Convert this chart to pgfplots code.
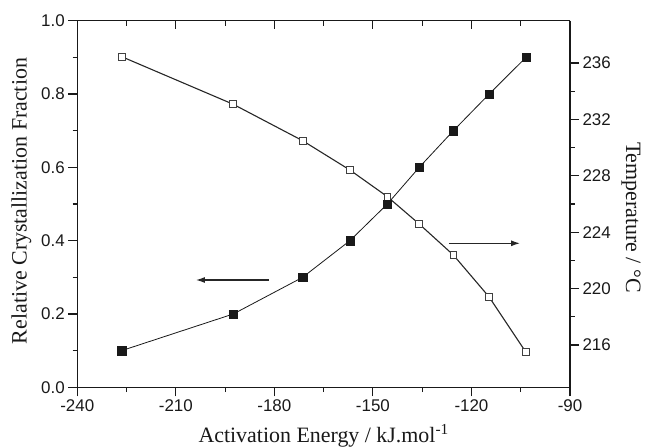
\documentclass[border=0pt]{standalone}
\usepackage{fontspec}
\setmainfont{Liberation Sans}
\newfontfamily\serifl{Liberation Serif}
\usepackage{pgfplots}
\pgfplotsset{compat=1.18}
\usetikzlibrary{arrows.meta}

\begin{document}
\begin{tikzpicture}
\useasboundingbox (-77.3bp,-60.7bp) rectangle (569.7bp,387.3bp);
\pgfplotsset{
  common/.style={
    scale only axis, width=492.7bp, height=366.6bp,
    xmin=-240, xmax=-90,
    tick align=outside, major tick length=9bp, minor tick length=4.7bp,
    axis line style={line width=1.1bp, black!90},
    every tick/.style={line width=1.1bp, black!90},
    tick label style={font=\fontsize{17}{17}\selectfont, black!90},
    /pgf/number format/assume math mode=true,
    label style={font=\serifl\fontsize{22}{22}\selectfont, black!90},
  }
}
% temperature (right axis), drawn first so the filled marks sit on top
\begin{axis}[common,
  axis x line=none, axis y line*=right,
  ymin=213, ymax=239,
  ytick={216,220,224,228,232,236}, minor y tick num=1,
  ylabel={Temperature / °C},
  ylabel style={at={([xshift=56bp,yshift=-13.5bp]axis description cs:1,0.5)}, rotate=-180, anchor=base},
]
\addplot[black!85, line width=1.1bp, mark=square*, mark size=3.4bp,
  mark options={fill=white, draw=black!75, line width=0.9bp}] coordinates {
  (-226.5,236.45) (-192.5,233.07) (-171.4,230.49) (-157.0,228.41) (-145.6,226.52)
  (-135.9,224.58) (-125.5,222.38) (-114.6,219.40) (-103.4,215.48)
};
\end{axis}

% relative crystallization fraction (left axis)
\begin{axis}[common,
  axis x line*=bottom, axis y line*=left,
  ymin=0, ymax=1,
  xtick={-240,-210,-180,-150,-120,-90}, minor x tick num=1,
  ytick={0,0.2,0.4,0.6,0.8,1}, minor y tick num=1,
  yticklabel style={/pgf/number format/.cd, fixed, fixed zerofill, precision=1},
  xlabel={Activation Energy / kJ.mol\textsuperscript{-1}},
  ylabel={Relative Crystallization Fraction},
  xlabel style={at={([yshift=-54.7bp]axis description cs:0.5,0)}, anchor=base},
  ylabel style={at={([xshift=-50.6bp,yshift=3bp]axis description cs:0,0.5)}, anchor=base},
]
\addplot[black!90, line width=0.8bp, mark=square*, mark size=4.2bp,
  mark options={fill=black!90, draw=black!90, line width=0.4bp}] coordinates {
  (-226.5,0.1) (-192.5,0.2) (-171.4,0.3) (-157.0,0.4) (-145.6,0.5)
  (-135.9,0.6) (-125.5,0.7) (-114.6,0.8) (-103.4,0.9)
};
\draw[black!85, line width=1.3bp, -{Latex[length=9bp,width=6bp]}]
  (axis cs:-181.6,0.2927) -- (axis cs:-203.9,0.2927);
\draw[black!85, line width=1.3bp, -{Latex[length=9bp,width=6bp]}]
  (axis cs:-126.9,0.3928) -- (axis cs:-105.2,0.3928);
\end{axis}

% top axis, ticks pointing in
\begin{axis}[common,
  axis x line*=top, axis y line=none,
  ymin=0, ymax=1,
  tick align=inside, major tick length=8.3bp, minor tick length=5bp,
  xtick={-240,-210,-180,-150,-120,-90}, minor x tick num=1,
  xticklabels={},
]
\end{axis}
\end{tikzpicture}
\end{document}
